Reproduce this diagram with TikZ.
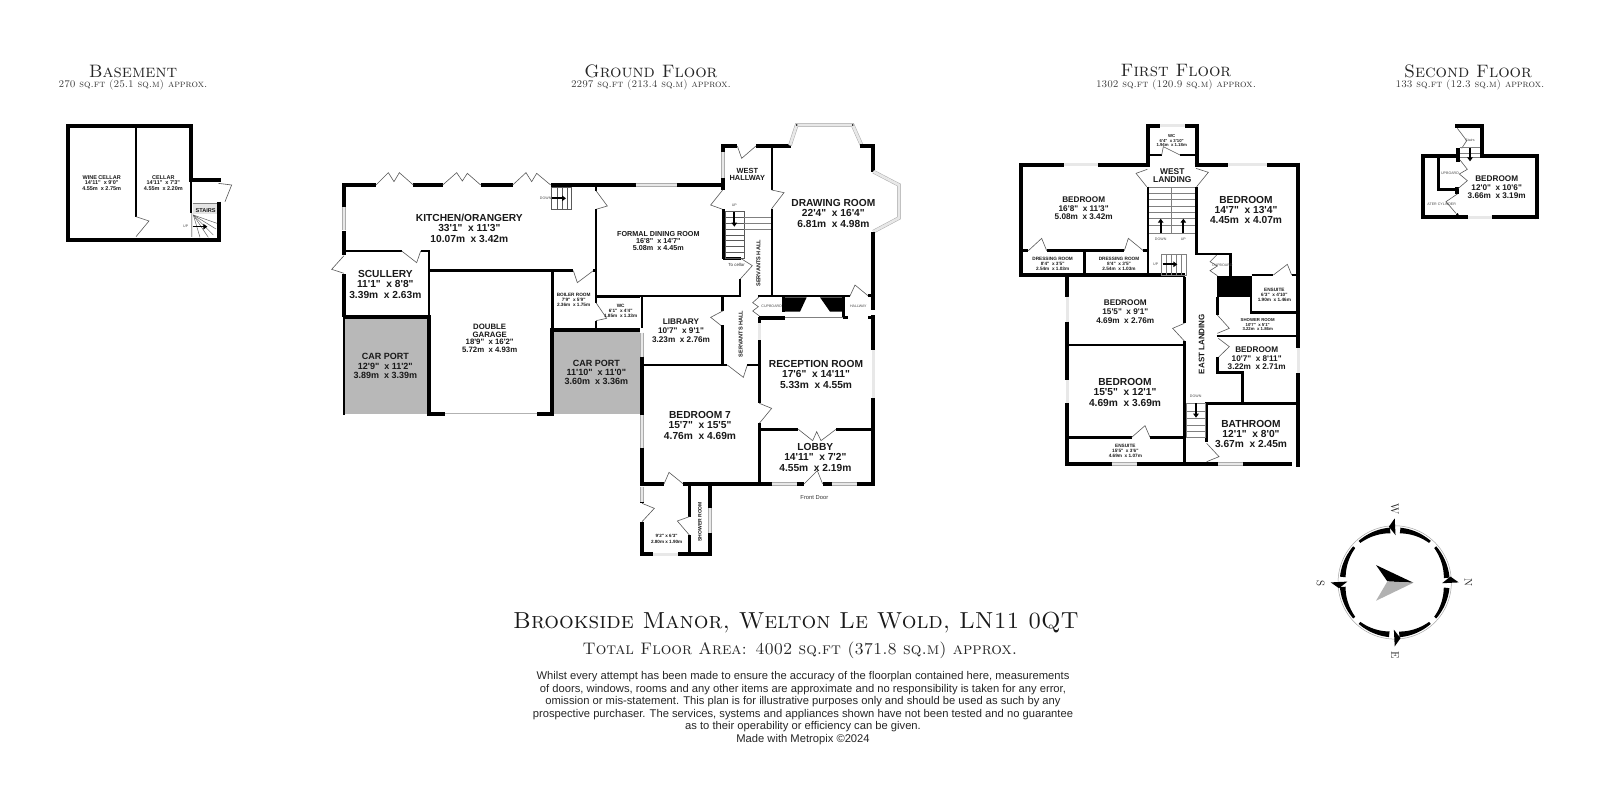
\documentclass[tikz,border=0pt]{standalone}
\usepackage{fontspec}
\usetikzlibrary{arrows.meta}
\newfontfamily\sansf{Liberation Sans}
\definecolor{carport}{gray}{0.72}
\definecolor{inktext}{gray}{0.1}
\tikzset{
  zm/.style 2 args={shift={(#1pt,-#2pt)},x=.33333pt,y=-.33333pt},
  wa/.style={draw=black,line width=4pt,line cap=butt,line join=miter},
  wb/.style={draw=black,line width=2.8pt,line cap=butt,line join=miter},
  wc/.style={draw=black,line width=2.2pt,line cap=butt,line join=miter},
  win/.style={draw=gray!65,line width=.5pt,double=gray!18,double distance=2.6pt},
  dr/.style={draw=gray!70!black,line width=.6pt,line join=miter},
  tread/.style={draw=black!65,line width=.45pt},
  treadl/.style={draw=gray,line width=.45pt},
  arw/.style={draw=black,line width=1.7pt,-{Triangle[length=4pt,width=5.5pt]}},
  rm/.style={inner sep=0,align=center,text=inktext,font=\sansf\bfseries\fontsize{#1}{#1}\selectfont},
  Ra/.style={inner sep=0,align=center,text=inktext,font=\sansf\bfseries\fontsize{10.2}{10.3}\selectfont},
  Rb/.style={inner sep=0,align=center,text=inktext,font=\sansf\bfseries\fontsize{9}{9.4}\selectfont},
  Rc/.style={inner sep=0,align=center,text=inktext,font=\sansf\bfseries\fontsize{8.2}{8.6}\selectfont},
  Rd/.style={inner sep=0,align=center,text=inktext,font=\sansf\bfseries\fontsize{7.4}{7.3}\selectfont},
  Re/.style={inner sep=0,align=center,text=inktext,font=\sansf\bfseries\fontsize{4.7}{5}\selectfont},
  tiny/.style={inner sep=0,text=black!70,font=\sansf\fontsize{3.6}{4}\selectfont},
  vert/.style={inner sep=0,rotate=90,text=inktext,font=\sansf\bfseries\fontsize{5.6}{6}\selectfont},
  ftitle/.style={inner sep=0,text=black!85,font=\rmfamily\scshape\fontsize{18}{18}\selectfont},
  fsub/.style={inner sep=0,text=black!80,font=\rmfamily\scshape\fontsize{10.2}{11}\selectfont},
  cpl/.style={inner sep=0,rotate=-90,text=inktext,font=\rmfamily\fontsize{11}{11}\selectfont}
}
\begin{document}
\begin{tikzpicture}[x=1pt,y=-1pt]
\useasboundingbox (0,0) rectangle (1600,806);
\fill[white] (0,0) rectangle (1600,806);

% ---------- floor titles
\node[ftitle] (tb) at (133,71) {Basement};
\node[fsub] (sb) at (133,85) {270 sq.ft (25.1 sq.m) approx.};
\node[ftitle] (tg) at (651,71) {Ground Floor};
\node[fsub] (sg) at (651,85) {2297 sq.ft (213.4 sq.m) approx.};
\node[ftitle] (tf) at (1176,71) {First Floor};
\node[fsub] (sf) at (1176,85) {1302 sq.ft (120.9 sq.m) approx.};
\node[ftitle] (ts) at (1468,71) {Second Floor};
\node[fsub] (ss) at (1470,85) {133 sq.ft (12.3 sq.m) approx.};

% ---------- BASEMENT
\begin{scope}[zm={40}{50}]
\draw[wa] (84,575) -- (84,228) -- (453,228) -- (453,391) -- (543,391);
\draw[wb] (453,391) -- (453,490);
\draw[win,double distance=.8pt] (457,490) -- (457,562);
\draw[wa] (537,455) -- (537,575);
\draw[wa] (78,569) -- (543,569);
\draw[wb] (288,235) -- (288,500);
\draw[dr] (288,500) -- (327,513) -- (288,560);
\draw[dr] (535,400) -- (575,405) -- (555,455);
\draw[treadl] (458,460) -- (532,460);
\fill[gray!20] (458,462) rectangle (532,492);
\foreach \a/\b in {520/555,528/537,531/520} \draw[tread] (460,495) -- (\a,\b);
\draw[tread] (460,495) -- (480,562);\draw[tread] (460,495) -- (505,562);
\draw[arw,line width=1.4pt] (458,530) -- (502,530);
\node[tiny] (bup) at (437,528) {UP};
\node[rm=5.6] (bstairs) at (497,483) {STAIRS};
\node[rm=5.5,align=center] (wine) at (185,398) {WINE CELLAR\\14'11"~~x 9'0"\\4.55m~~x 2.75m};
\node[rm=5.5,align=center] (cellar) at (370,398) {CELLAR\\14'11"~~x 7'3"\\4.55m~~x 2.20m};
\end{scope}

% ---------- GROUND FLOOR west part
\begin{scope}[zm={320}{110}]
\fill[carport] (76,625) rectangle (322,912);
\fill[carport] (703,664) rectangle (960,912);
\draw[wa] (72,290) -- (72,225) -- (168,225);
\draw[wa] (72,362) -- (72,436);
\draw[wa] (72,492) -- (72,622);
\draw[win] (72,292) -- (72,360);
\draw[wa] (280,225) -- (368,225);
\draw[wa] (482,225) -- (578,225);
\draw[wa] (692,225) -- (960,225);
\draw[dr] (168,225) -- (205,188) -- (222,215) -- (238,188) -- (280,225);
\draw[dr] (368,225) -- (410,188) -- (427,213) -- (442,190) -- (482,225);
\draw[dr] (578,225) -- (618,188) -- (635,215) -- (650,190) -- (692,225);
\draw[dr] (72,437) -- (35,478) -- (72,490);
\draw[wc] (72,423) -- (245,423);
\draw[dr] (245,423) -- (290,458) -- (302,423);
\draw[wc] (302,423) -- (328,423) -- (328,620);
\draw[wb] (326,482) -- (760,482);
\draw[dr] (760,482) -- (772,518) -- (820,482);
\draw[wb] (820,482) -- (831,482);
\draw[wc] (828,232) -- (828,242);
\draw[dr] (828,242) -- (862,288) -- (828,298);
\draw[wc] (828,298) -- (828,578);
\draw[dr] (828,578) -- (860,625) -- (828,632);
\draw[wc] (828,632) -- (828,655);
\draw[wa] (70,620) -- (332,620);
\draw[wa] (328,620) -- (328,912) -- (375,912);
\draw[wc] (72,622) -- (72,914);
\draw[draw=gray!60,line width=.5pt] (375,911) -- (652,911);
\draw[wa] (652,912) -- (697,912) -- (697,655);
\draw[wb] (697,482) -- (697,660);
\draw[wa] (695,659) -- (960,659);
\draw[wb] (828,559) -- (960,559);
% stairs
\draw[tread] (695,232) rectangle (755,298);
\foreach \x in {712,728,743} \draw[tread] (\x,232) -- (\x,298);
\draw[arw] (697,265) -- (738,265);
\node[tiny] (kdown) at (677,265) {DOWN};
\node[Ra] (kitchen) at (448,355) {KITCHEN/ORANGERY\\33'1"~~x 11'3"\\10.07m~~x 3.42m};
\node[Ra] (scullery) at (196,523) {SCULLERY\\11'1"~~x 8'8"\\3.39m~~x 2.63m};
\node[Rb] (cpa) at (196,768) {CAR PORT\\12'9"~~x 11'2"\\3.89m~~x 3.39m};
\node[Rb] (cpb) at (829,787) {CAR PORT\\11'10"~~x 11'0"\\3.60m~~x 3.36m};
\node[rm=7.8,align=center] (garage) at (509,685) {DOUBLE\\GARAGE\\18'9"~~x 16'2"\\5.72m~~x 4.93m};
\node[Re] (boiler) at (761,571) {BOILER ROOM\\7'9"~~x 5'9"\\2.36m~~x 1.75m};
\node[Re] (wcg) at (902,604) {WC\\6'1"~~x 4'4"\\1.85m~~x 1.33m};
\end{scope}

% ---------- GROUND FLOOR north-east part
\begin{scope}[zm={620}{110}]
\draw[wa] (0,225) -- (45,225);
\draw[win] (47,225) -- (172,225);
\draw[wa] (172,225) -- (310,225);
\draw[wa] (309,205) -- (309,240);
\draw[win] (309,125) -- (309,205);
\draw[wa] (309,125) -- (309,108) -- (352,108);
\draw[dr] (352,108) -- (365,145) -- (408,108);
\draw[wa] (408,108) -- (512,108);
\draw[win] (510,106) -- (530,45) -- (698,45) -- (725,106);
\fill[black] (530,45) circle (2.5) (698,45) circle (2.5);
\draw[wa] (720,108) -- (760,108) -- (760,185);
\draw[win] (760,185) -- (837,225) -- (837,324) -- (760,365);
\draw[wa] (760,365) -- (760,600);
\draw[wc] (455,115) -- (455,240);
\draw[dr] (455,240) -- (492,248) -- (455,296);
\draw[wc] (455,296) -- (455,558);
\draw[dr] (308,240) -- (272,285) -- (308,298);
\draw[wb] (310,298) -- (310,448);
\draw[wb] (310,445) -- (362,445);
\draw[dr] (362,445) -- (397,467) -- (360,508);
\draw[wb] (360,508) -- (360,558);
\draw[wb] (60,558) -- (363,558);
\draw[wb] (308,558) -- (308,602);
\draw[dr] (310,602) -- (272,622) -- (310,652);
\draw[wb] (66,558) -- (66,655);
\draw[wb] (415,558) -- (495,558);
\draw[dr] (418,560) -- (398,578) -- (415,590) -- (398,603) -- (418,618);
\draw[wa] (418,624) -- (495,624);
\draw[wb] (418,620) -- (418,645);
\draw[win] (418,640) -- (418,700);
\draw[wb] (490,558) -- (490,605);
\draw[wb] (490,558) -- (690,558);
\fill[black] (495,562) -- (560,562) -- (540,605) -- (495,605) -- cycle;
\fill[black] (600,562) -- (668,562) -- (668,605) -- (630,605) -- cycle;
\draw[treadl] (495,621) -- (668,621);
\draw[wb] (670,558) -- (670,622);
\draw[wb] (668,622) -- (684,622);
\draw[wb] (745,622) -- (762,622);
\draw[dr] (690,558) -- (705,525) -- (745,558);
\draw[wb] (745,556) -- (760,556);
% stairs
\draw[tread] (315,305) rectangle (373,445);
\foreach \y in {322,340,357,375,392,410,428} \draw[tread] (315,\y) -- (373,\y);
\foreach \y in {322,340,357} \draw[treadl] (373,\y) -- (452,\y);
\draw[arw] (343,306) -- (343,350);
\node[tiny] (hup) at (343,286) {UP};
\node[inner sep=0,text=black!80,font=\sansf\fontsize{4.4}{5}\selectfont] (cellarlbl) at (350,465) {To cellar};
\node[vert] (sh1) at (415,460) {SERVANTS HALL};
\node[tiny] (cupg) at (455,589) {CUPBOARD};
\node[tiny] (hallg) at (715,590) {HALLWAY};
\node[rm=7.4,align=center] (west) at (382,194) {WEST\\HALLWAY};
\node[Ra] (drawing) at (640,310) {DRAWING ROOM\\22'4"~~x 16'4"\\6.81m~~x 4.98m};
\node[rm=7.2,align=center] (dining) at (115,393) {FORMAL DINING ROOM\\16'8"~~x 14'7"\\5.08m~~x 4.45m};
\end{scope}

% ---------- GROUND FLOOR south part
\begin{scope}[zm={620}{320}]
\draw[wb] (308,15) -- (308,135);
\draw[wb] (70,135) -- (322,135);
\draw[dr] (322,135) -- (370,172) -- (382,135);
\draw[wb] (382,135) -- (418,135);
\draw[wb] (418,60) -- (418,250);
\draw[dr] (418,250) -- (455,265) -- (418,310);
\draw[wb] (418,310) -- (418,492);
\draw[win] (66,38) -- (66,110);
\draw[wa] (66,110) -- (66,285);
\draw[win] (66,285) -- (66,385);
\draw[wa] (66,385) -- (66,498);
\draw[wb] (422,328) -- (535,328);
\draw[dr] (535,328) -- (578,362) -- (590,335) -- (603,362) -- (648,328);
\draw[wb] (648,328) -- (760,328);
\draw[wa] (760,-15) -- (760,90);
\draw[win] (760,90) -- (760,235);
\draw[wa] (760,235) -- (760,498);
\draw[wa] (60,492) -- (132,492);
\draw[dr] (132,492) -- (147,457) -- (190,492);
\draw[wa] (190,492) -- (455,492);
\draw[win] (455,492) -- (532,492);
\draw[wa] (532,492) -- (552,492);
\draw[dr] (552,492) -- (592,452) -- (608,492);
\draw[wa] (608,492) -- (635,492);
\draw[win] (635,492) -- (710,492);
\draw[wa] (710,492) -- (766,492);
\draw[wb] (208,492) -- (208,590);
\draw[dr] (208,590) -- (172,603) -- (208,645);
\draw[wb] (208,645) -- (208,703);
\draw[wa] (270,492) -- (270,565);
\draw[win] (270,565) -- (270,640);
\draw[wa] (270,640) -- (270,708);
\draw[win] (66,500) -- (66,545);
\draw[wa] (66,545) -- (66,550);
\draw[dr] (66,550) -- (103,565) -- (66,605);
\draw[wa] (66,605) -- (66,709);
\draw[wa] (60,703) -- (100,703);
\draw[win] (100,703) -- (175,703);
\draw[wa] (175,703) -- (276,703);
\node[Rc] (library) at (183,32) {LIBRARY\\10'7"~~x 9'1"\\3.23m~~x 2.76m};
\node[Ra] (reception) at (588,163) {RECEPTION ROOM\\17'6"~~x 14'11"\\5.33m~~x 4.55m};
\node[Ra] (bed7) at (240,316) {BEDROOM 7\\15'7"~~x 15'5"\\4.76m~~x 4.69m};
\node[Ra] (lobby) at (586,412) {LOBBY\\14'11"~~x 7'2"\\4.55m~~x 2.19m};
\node[inner sep=0,text=black!80,font=\sansf\fontsize{5.8}{6}\selectfont] (front) at (583,533) {Front Door};
\node[rm=4.6,align=center] (porch) at (140,657) {9'2" x 6'3"\\[1pt]2.80m x 1.90m};
\node[vert,font=\sansf\bfseries\fontsize{5}{6}\selectfont] (shower) at (240,605) {SHOWER ROOM};
\node[vert] (sh2) at (362,42) {SERVANTS HALL};
\end{scope}

% ---------- FIRST FLOOR north
\begin{scope}[zm={990}{110}]
\draw[wa] (474,170) -- (474,47) -- (510,47);
\draw[win] (510,47) -- (585,47);
\draw[wa] (585,47) -- (620,47) -- (620,170);
\draw[wa] (94,500) -- (94,164) -- (222,164);
\draw[win] (222,164) -- (325,164);
\draw[wa] (325,164) -- (480,164);
\draw[wa] (614,164) -- (715,164);
\draw[win] (715,164) -- (832,164);
\draw[wa] (832,164) -- (930,164);
\draw[wb] (480,135) -- (515,135);
\draw[dr] (515,135) -- (520,110) -- (570,135);
\draw[wb] (570,135) -- (615,135);
\draw[dr] (472,178) -- (438,190) -- (470,230);
\draw[dr] (618,175) -- (655,187) -- (620,230);
\draw[wb] (474,230) -- (474,495);
\draw[wb] (620,230) -- (620,432);
\draw[wb] (616,432) -- (725,432);
\draw[wb] (722,432) -- (722,500);
\draw[wb] (100,422) -- (115,422);
\draw[dr] (115,422) -- (155,385) -- (170,422);
\draw[wb] (170,422) -- (403,422);
\draw[dr] (403,422) -- (415,385) -- (460,422);
\draw[wb] (460,422) -- (474,422);
\draw[wb] (284,422) -- (284,495);
\draw[wa] (88,495) -- (585,495);
\draw[dr] (680,435) -- (660,455) -- (682,468) -- (660,482) -- (682,497);
\fill[black] (682,497) rectangle (785,562);
% stairs
\draw[treadl] (478,233) -- (615,233);
\draw[treadl] (545,233) -- (545,370);
\foreach \y in {250,268,288,307,325,345,370} \draw[treadl] (478,\y) -- (615,\y);
\draw[arw] (512,370) -- (512,326);
\draw[arw] (580,370) -- (580,326);
\node[tiny] (fdown) at (512,388) {DOWN};
\node[tiny] (fup) at (580,388) {UP};
\draw[treadl] (515,432) rectangle (588,495);
\foreach \x in {530,545,560,575} \draw[treadl] (\x,432) -- (\x,495);
\draw[arw] (518,463) -- (562,463);
\node[tiny] (fup2) at (497,462) {UP};
\node[tiny] (cupf) at (697,465) {CUPBOARD};
\node[rm=4.3,align=center] (wcf) at (545,92) {WC\\6'4"~~x 3'10"\\1.94m~~x 1.18m};
\node[rm=8.4,align=center] (wland) at (547,197) {WEST\\LANDING};
\node[Rc] (bedA) at (281,295) {BEDROOM\\16'8"~~x 11'3"\\5.08m~~x 3.42m};
\node[Ra] (bedB) at (768,300) {BEDROOM\\14'7"~~x 13'4"\\4.45m~~x 4.07m};
\node[Re] (dr1) at (188,461) {DRESSING ROOM\\8'4"~~x 3'5"\\2.54m~~x 1.03m};
\node[Re] (dr2) at (387,461) {DRESSING ROOM\\8'4"~~x 3'5"\\2.54m~~x 1.03m};
\end{scope}

% ---------- FIRST FLOOR west/south
\begin{scope}[zm={1030}{260}]
\draw[wa] (112,50) -- (112,110);
\draw[win] (112,110) -- (112,185);
\draw[wa] (112,185) -- (112,360);
\draw[win] (112,360) -- (112,430);
\draw[wa] (112,430) -- (112,618);
\draw[wb] (463,50) -- (463,190);
\draw[dr] (463,190) -- (428,205) -- (463,243);
\draw[wb] (463,243) -- (463,612);
\draw[wb] (118,255) -- (463,255);
\draw[wb] (118,532) -- (305,532);
\draw[dr] (305,532) -- (345,497) -- (360,532);
\draw[wb] (360,532) -- (463,532);
\draw[wa] (106,612) -- (245,612);
\draw[win] (245,612) -- (320,612);
\draw[wa] (320,612) -- (565,612);
\draw[win] (565,612) -- (640,612);
\draw[wa] (640,612) -- (786,612);
\node[Rc] (bedC) at (286,155) {BEDROOM\\15'5"~~x 9'1"\\4.69m~~x 2.76m};
\node[Ra] (bedD) at (285,397) {BEDROOM\\15'5"~~x 12'1"\\4.69m~~x 3.69m};
\node[Re] (ensA) at (286,573) {ENSUITE\\15'5"~~x 3'6"\\4.69m~~x 1.07m};
\end{scope}

% ---------- FIRST FLOOR east
\begin{scope}[zm={1170}{240}]
\draw[wa] (385,-232) -- (385,325);
\draw[win] (385,325) -- (385,400);
\draw[wa] (385,400) -- (385,680);
\draw[wb] (245,105) -- (310,105);
\draw[dr] (310,105) -- (352,73) -- (365,105);
\draw[wb] (365,105) -- (385,105);
\draw[wb] (243,172) -- (243,218) -- (380,218);
\draw[wb] (143,172) -- (143,225);
\draw[dr] (142,225) -- (178,265) -- (142,280);
\draw[wb] (140,288) -- (380,288);
\draw[dr] (145,295) -- (178,320) -- (145,352);
\draw[wb] (143,352) -- (143,398) -- (217,398) -- (217,490);
\draw[wb] (110,605) -- (110,490) -- (380,490);
\draw[dr] (110,610) -- (147,650) -- (110,665);
\draw[treadl] (50,490) rectangle (107,592);
\foreach \y in {515,535,555,575} \draw[treadl] (50,\y) -- (107,\y);
\draw[arw] (78,490) -- (78,533);
\node[tiny] (fdown2) at (77,470) {DOWN};
\node[vert,font=\sansf\bfseries\fontsize{8}{8}\selectfont] (eland) at (95,312) {EAST LANDING};
\node[Re] (ensB) at (313,165) {ENSUITE\\6'3"~~x 4'10"\\1.90m~~x 1.46m};
\node[rm=4.3,align=center] (showF) at (263,254) {SHOWER ROOM\\10'7"~~x 5'1"\\3.22m~~x 1.86m};
\node[Rc] (bedE) at (260,355) {BEDROOM\\10'7"~~x 8'11"\\3.22m~~x 2.71m};
\node[Ra] (bath) at (243,582) {BATHROOM\\12'1"~~x 8'0"\\3.67m~~x 2.45m};
\end{scope}

% ---------- SECOND FLOOR
\begin{scope}[zm={1400}{50}]
\draw[wa] (412,508) -- (412,317) -- (245,317) -- (245,227) -- (165,227);
\draw[wa] (180,317) -- (70,317) -- (70,508);
\draw[wa] (65,502) -- (205,502);
\draw[win] (205,502) -- (275,502);
\draw[wa] (275,502) -- (418,502);
\draw[wa] (173,293) -- (173,335);
\draw[wb] (115,323) -- (115,418) -- (175,418);
\draw[wa] (172,412) -- (172,432);
\draw[dr] (172,235) -- (200,272) -- (185,295);
\draw[dr] (180,330) -- (202,358) -- (178,372) -- (202,392) -- (175,415);
\draw[dr] (172,432) -- (138,455) -- (168,490);
\fill[black] (172,493) circle (4);
\draw[treadl] (180,293) -- (240,293);
\draw[treadl] (180,310) -- (240,310);
\draw[treadl] (180,322) -- (240,322);
\draw[arw] (210,293) -- (210,334);
\node[tiny] (sstair) at (210,272) {Stairs};
\node[tiny] (supb) at (150,370) {UPBOARD};
\node[tiny] (scyl) at (125,462) {ATER CYLINDER};
\node[Rc] (bedS) at (290,412) {BEDROOM\\12'0"~~x 10'6"\\3.66m~~x 3.19m};
\end{scope}

% ---------- COMPASS
\begin{scope}[shift={(1394.7pt,-582.4pt)},x=.33333pt,y=-.33333pt]
\draw[gray!70,line width=.5pt] plot[domain=0:360,samples=90] (\x:170);
\foreach \a in {-90,0,90,180}{
  \fill[black] plot[domain=\a+6:\a+41,samples=12] (\x:165) -- plot[domain=\a+41:\a+6,samples=12] ({\x}:{148+9*(\x-\a-6)/35}) -- cycle;
  \fill[black] plot[domain=\a+49:\a+85,samples=12] (\x:165) -- plot[domain=\a+85:\a+49,samples=12] ({\x}:{157-9*(\x-\a-49)/36}) -- cycle;
  \fill[black] (\a:192) -- ({\a+1}:142) -- ({\a-6}:168) -- cycle;
}
\fill[black] (-56,-52) -- (56,1) -- (-22,-3) -- cycle;
\fill[gray!60] (-22,-3) -- (56,1) -- (-56,55) -- cycle;
\node[cpl] (cw) at (0,-219) {W};
\node[cpl] (cn) at (221,1) {N};
\node[cpl] (ce) at (1,218) {E};
\node[cpl] (cs) at (-222,3) {S};
\end{scope}

% ---------- FOOTER
\node[inner sep=0,text=black!90,font=\rmfamily\scshape\fontsize{23.2}{24}\selectfont] (addr) at (796,623) {Brookside Manor, Welton Le Wold, LN11 0QT};
\node[inner sep=0,text=black!85,font=\rmfamily\scshape\fontsize{16.7}{18}\selectfont] (area) at (800,650) {Total Floor Area: 4002 sq.ft (371.8 sq.m) approx.};
\node[inner sep=0,align=center,text=black!85,font=\sansf\fontsize{11.2}{12.5}\selectfont] (disc) at (803,708) {Whilst every attempt has been made to ensure the accuracy of the floorplan contained here, measurements\\of doors, windows, rooms and any other items are approximate and no responsibility is taken for any error,\\omission or mis-statement. This plan is for illustrative purposes only and should be used as such by any\\prospective purchaser. The services, systems and appliances shown have not been tested and no guarantee\\as to their operability or efficiency can be given.\\Made with Metropix ©2024};
\end{tikzpicture}
\end{document}
